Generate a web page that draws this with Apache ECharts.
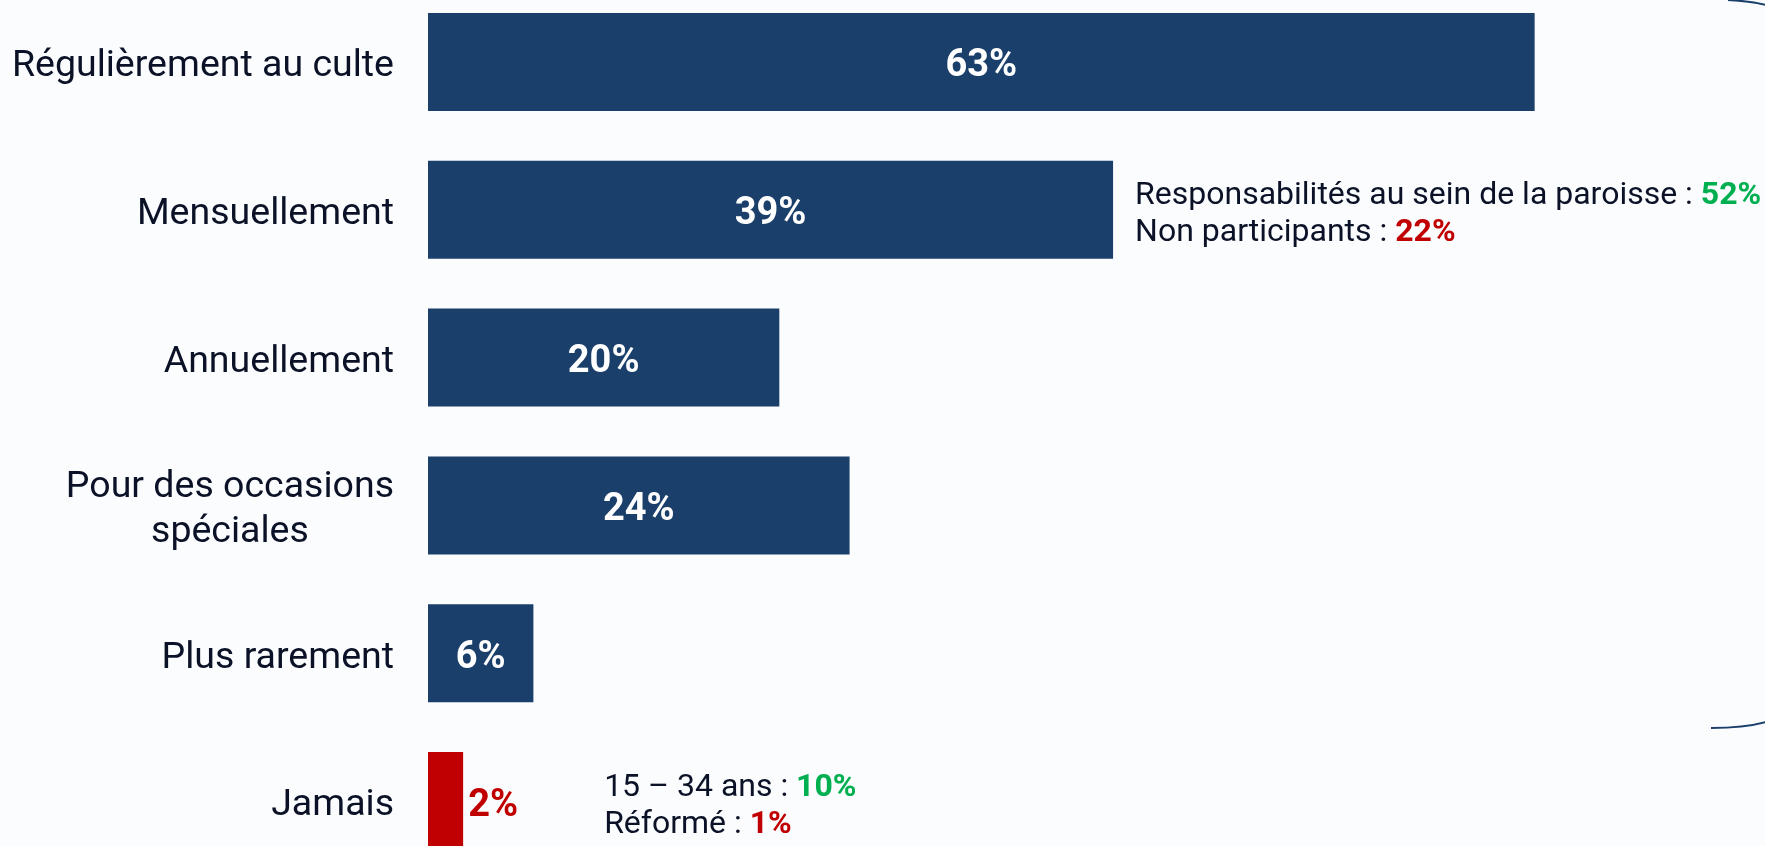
<!DOCTYPE html>
<html>
<head>
<meta charset="utf-8">
<script src="https://cdn.jsdelivr.net/npm/echarts@6/dist/echarts.min.js"></script>
<style>
html,body{margin:0;padding:0;background:#fbfcfe;}
#chart{width:1765px;height:846px;}
</style>
</head>
<body>
<div id="chart"></div>
<script>
var categories = ['Régulièrement au culte', 'Mensuellement', 'Annuellement', 'Pour des occasions\nspéciales', 'Plus rarement', 'Jamais'];
var values = [63, 39, 20, 24, 6, 2];
var highlight = [false, false, false, false, false, true];
var note1 = { category: 1, lines: [['Responsabilités au sein de la paroisse : ', '52%', 'g'], ['Non participants : ', '22%', 'r']] };
var note2 = { category: 5, lines: [['15 – 34 ans : ', '10%', 'g'], ['Réformé : ', '1%', 'r']] };

var NAVY = '#1a3f6b', RED = '#c00000', GREEN = '#00b050', TEXT = '#0b1227';
var FONT = 'Roboto';

var chart = echarts.init(document.getElementById('chart'));

var seriesData = values.map(function (v, i) {
  var item = { value: v, itemStyle: { color: highlight[i] ? RED : NAVY } };
  if (highlight[i]) {
    item.label = { position: 'right', distance: 5, color: RED };
  }
  return item;
});

chart.setOption({
  backgroundColor: '#fbfcfe',
  animation: false,
  grid: { left: 428, width: 1335, top: -12, height: 887, containLabel: false, outerBoundsMode: 'none' },
  xAxis: { type: 'value', min: 0, max: 76, show: false },
  yAxis: {
    type: 'category', inverse: true, data: categories,
    axisLine: { show: false }, axisTick: { show: false }, splitLine: { show: false },
    axisLabel: {
      margin: 34, color: TEXT, fontFamily: FONT, fontSize: 37.5, lineHeight: 45,
      padding: [10, 0, 0, 0],
      formatter: function (v) {
        return v.split('\n').map(function (s) { return '{c|' + s + '}'; }).join('\n');
      },
      rich: { c: { align: 'center', fontFamily: FONT, fontSize: 37.5, color: TEXT, lineHeight: 45 } }
    }
  },
  series: [{
    type: 'bar', data: seriesData, barWidth: 98,
    label: {
      show: true, position: 'inside', color: '#ffffff', fontFamily: FONT,
      fontWeight: 'bold', fontSize: 38, formatter: '{c}%', offset: [0, 5]
    }
  }]
});

function noteGraphic(note, offsetX) {
  var endPt = chart.convertToPixel({ gridIndex: 0 }, [values[note.category], note.category]);
  var txt = note.lines.map(function (l) {
    return '{n|' + l[0] + '}{' + l[2] + '|' + l[1] + '}';
  }).join('\n');
  return {
    type: 'text', x: endPt[0] + offsetX, y: endPt[1] + 5,
    style: {
      text: txt, verticalAlign: 'middle', align: 'left', fill: TEXT,
      rich: {
        n: { fontFamily: FONT, fontSize: 32, fill: TEXT, lineHeight: 37 },
        g: { fontFamily: FONT, fontSize: 32, fontWeight: 'bold', fill: GREEN, lineHeight: 37 },
        r: { fontFamily: FONT, fontSize: 32, fontWeight: 'bold', fill: RED, lineHeight: 37 }
      }
    }
  };
}

chart.setOption({
  graphic: [
    noteGraphic(note1, 22),
    noteGraphic(note2, 141),
    { type: 'bezierCurve', shape: { x1: 1728, y1: 0, x2: 1766, y2: 5, cpx1: 1750, cpy1: 1 },
      style: { stroke: NAVY, lineWidth: 2, fill: null } },
    { type: 'bezierCurve', shape: { x1: 1711, y1: 728, x2: 1766, y2: 722, cpx1: 1745, cpy1: 728 },
      style: { stroke: NAVY, lineWidth: 2, fill: null } }
  ]
});
</script>
</body>
</html>
